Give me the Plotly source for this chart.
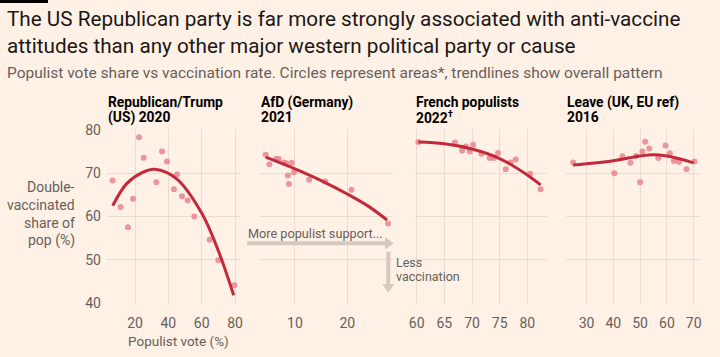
import plotly.graph_objects as go

# ---------------- data ----------------
us_x = [6.6, 11.4, 15.8, 18.8, 22.4, 25.2, 32.8, 36.2, 39.2, 45.2, 43.4, 48.2, 51.6, 55.6, 64.8, 70.0, 79.6]
us_y = [68.3, 62.2, 57.5, 64.1, 78.3, 73.6, 67.9, 75.0, 72.7, 69.7, 66.3, 64.7, 63.7, 60.0, 54.6, 49.9, 44.1]
us_trend_x = [6.6, 15, 24, 32, 45, 60, 70, 79.2]
us_trend_y = [62.5, 67.6, 70.1, 70.9, 68.7, 60.8, 52.1, 41.8]

de_x = [4.4, 5.1, 6.4, 6.9, 7.9, 8.3, 9.4, 8.65, 8.85, 9.8, 12.7, 15.8, 20.8, 27.8]
de_y = [74.3, 72.1, 73.3, 73.3, 72.5, 72.3, 72.4, 69.5, 67.5, 70.2, 68.5, 68.1, 66.2, 58.4]
de_trend_x = [4.4, 10, 15, 20, 24, 27.6]
de_trend_y = [73.7, 71.0, 68.3, 65.2, 62.4, 59.2]

fr_x = [60.3, 66.9, 68.2, 68.9, 69.6, 70.2, 71.7, 73.2, 73.9, 74.7, 76.1, 77.0, 77.9, 80.5, 82.4]
fr_y = [77.2, 77.1, 75.2, 76.2, 75.0, 76.6, 74.5, 73.5, 73.5, 74.7, 70.9, 72.5, 73.2, 69.9, 66.3]
fr_trend_x = [60.3, 65, 70, 75, 80, 82.4]
fr_trend_y = [77.2, 76.8, 75.6, 73.4, 69.6, 67.3]

uk_x = [25.0, 40.4, 43.4, 46.4, 48.5, 50.0, 50.9, 51.9, 53.4, 56.8, 59.5, 61.1, 62.6, 64.5, 67.3, 70.3]
uk_y = [72.5, 70.0, 73.9, 72.4, 74.0, 67.9, 75.0, 77.3, 75.7, 73.5, 76.4, 74.6, 72.8, 72.6, 70.9, 72.7]
uk_trend_x = [25, 40, 50, 55, 60, 65, 70]
uk_trend_y = [71.9, 72.9, 74.0, 74.3, 74.0, 73.3, 72.4]

panel_titles = [["Republican/Trump", "(US) 2020"], ["AfD (Germany)", "2021"],
                ["French populists", "2022<sup>†</sup>"], ["Leave (UK, EU ref)", "2016"]]
x_ticks = [[20, 40, 60, 80], [10, 20], [60, 65, 70, 75, 80], [30, 40, 50, 60, 70]]
y_ticks = [40, 50, 60, 70, 80]

title_lines = ["The US Republican party is far more strongly associated with anti-vaccine",
               "attitudes than any other major western political party or cause"]
subtitle = "Populist vote share vs vaccination rate. Circles represent areas*, trendlines show overall pattern"
y_title_lines = ["Double-", "vaccinated", "share of", "pop (%)"]
x_title = "Populist vote (%)"

# ---------------- layout helpers ----------------
W, H = 720, 357
BG = "#FFF1E5"
GRID = "#EADDD0"
DOT = "#E8858F"
LINE = "#C22A3C"
GREY = "#66605C"
FONT = "Roboto"

px_domains = [(107, 240), (260, 393), (415, 547), (566, 700)]
x_ranges = [(3.2, 83.0), (3.31, 28.74), (59.69, 83.56), (22.35, 72.35)]
y_top_px, y_bot_px = 129.1, 303.9
y_range = (39.8, 80.2)


def px(x):
    return x / W


def py(y):
    return 1 - y / H


fig = go.Figure()
series = [(us_x, us_y, us_trend_x, us_trend_y), (de_x, de_y, de_trend_x, de_trend_y),
          (fr_x, fr_y, fr_trend_x, fr_trend_y), (uk_x, uk_y, uk_trend_x, uk_trend_y)]

for i, (sx, sy, tx, ty) in enumerate(series):
    ax = "" if i == 0 else str(i + 1)
    fig.add_trace(go.Scatter(x=sx, y=sy, mode="markers", xaxis="x" + ax, yaxis="y" + ax,
                             marker=dict(size=6, color=DOT, opacity=0.85, line=dict(width=0)),
                             cliponaxis=False, hoverinfo="skip", showlegend=False))
    fig.add_trace(go.Scatter(x=tx, y=ty, mode="lines", xaxis="x" + ax, yaxis="y" + ax,
                             line=dict(color=LINE, width=3, shape="spline", smoothing=1.0),
                             cliponaxis=False, hoverinfo="skip", showlegend=False))
    d0, d1 = px_domains[i]
    fig.update_layout(**{
        "xaxis" + ax: dict(domain=[px(d0), px(d1)], range=list(x_ranges[i]), tickvals=x_ticks[i],
                           showgrid=True, gridcolor=GRID, gridwidth=1, zeroline=False, showline=False,
                           ticks="", tickfont=dict(family=FONT, size=14, color=GREY),
                           ticklabelstandoff=9,
                           anchor="y" + ax, fixedrange=True, automargin=False),
        "yaxis" + ax: dict(domain=[py(y_bot_px), py(y_top_px)], range=list(y_range),
                           tickvals=y_ticks, showgrid=True, gridcolor=GRID, gridwidth=1,
                           zeroline=False, showline=False, ticks="", showticklabels=(i == 0),
                           tickfont=dict(family=FONT, size=14, color=GREY),
                           ticklabelstandoff=5,
                           anchor="x" + ax, fixedrange=True, automargin=False),
    })
    for j, t in enumerate(panel_titles[i]):
        fig.add_annotation(text="<b>" + t + "</b>", xref="paper", yref="paper",
                           x=px(d0 - 1), y=py(102.5 + 15 * j), xanchor="left", yanchor="middle",
                           showarrow=False, font=dict(family=FONT, size=13.8, color="#000000"))

annos = []
for j, t in enumerate(title_lines):
    annos.append(dict(text=t, x=px(5), y=py(19 + 27 * j), font=dict(size=20.7, color="#1A1817")))
annos.append(dict(text=subtitle, x=px(5), y=py(73), font=dict(size=15.5, color=GREY)))
for a in annos:
    fig.add_annotation(text=a["text"], xref="paper", yref="paper", x=a["x"], y=a["y"],
                       xanchor="left", yanchor="middle", showarrow=False,
                       font=dict(family=FONT, **a["font"]))

for j, t in enumerate(y_title_lines):
    fig.add_annotation(text=t, xref="paper", yref="paper", x=px(76.5), y=py(186.7 + 18 * j),
                       xanchor="right", yanchor="middle", showarrow=False,
                       font=dict(family=FONT, size=14, color=GREY))

fig.add_annotation(text=x_title, xref="paper", yref="paper", x=px(178), y=py(340.5),
                   xanchor="center", yanchor="middle", showarrow=False,
                   font=dict(family=FONT, size=13.5, color=GREY))

ARROW = "#D5CAC0"
fig.add_shape(type="line", xref="paper", yref="paper", x0=px(247), x1=px(386), y0=py(243.3), y1=py(243.3),
              line=dict(color=ARROW, width=4))
fig.add_shape(type="path", xref="paper", yref="paper",
              path=f"M {px(385)} {py(237.3)} L {px(394)} {py(243.3)} L {px(385)} {py(249.3)} Z",
              fillcolor=ARROW, line=dict(width=0))
fig.add_shape(type="line", xref="paper", yref="paper", x0=px(388.3), x1=px(388.3), y0=py(251.7), y1=py(285),
              line=dict(color=ARROW, width=4))
fig.add_shape(type="path", xref="paper", yref="paper",
              path=f"M {px(382.3)} {py(284)} L {px(388.3)} {py(293)} L {px(394.3)} {py(284)} Z",
              fillcolor=ARROW, line=dict(width=0))
fig.add_annotation(text="More populist support...", xref="paper", yref="paper", x=px(246),
                   y=py(233), xanchor="left", yanchor="middle", showarrow=False,
                   font=dict(family=FONT, size=12.7, color=GREY))
for j, t in enumerate(["Less", "vaccination"]):
    fig.add_annotation(text=t, xref="paper", yref="paper", x=px(394), y=py(262.3 + 13.7 * j),
                       xanchor="left", yanchor="middle", showarrow=False,
                       font=dict(family=FONT, size=12.5, color=GREY))

fig.add_shape(type="rect", xref="paper", yref="paper", x0=0, x1=px(48), y0=1, y1=py(3),
              fillcolor="#000000", line=dict(width=0))

fig.update_layout(width=W, height=H, margin=dict(l=0, r=0, t=0, b=0, pad=0, autoexpand=False),
                  paper_bgcolor=BG, plot_bgcolor=BG, showlegend=False,
                  font=dict(family=FONT, color=GREY))

page_css = """
var s=document.createElement('style');
s.innerHTML='html,body{margin:0;padding:0;background:#FFF1E5;overflow:hidden;}';
document.head.appendChild(s);
"""
fig.write_html("out.html", config={"displayModeBar": False}, post_script=page_css)
